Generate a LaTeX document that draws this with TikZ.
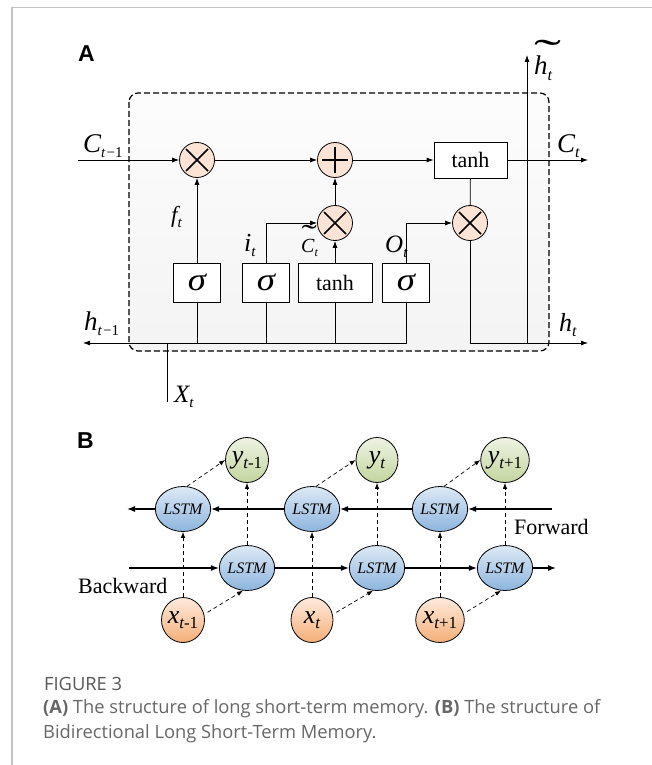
\documentclass[tikz,border=0pt]{standalone}
\usepackage{fontspec}
\setmainfont{Liberation Serif}
\newfontfamily\panelfont{Liberation Sans}
\newfontfamily\capfont{Open Sans}
\usepackage{graphicx}
\usetikzlibrary{shapes.geometric,arrows.meta}
\definecolor{opfill}{HTML}{FBE3D6}
\definecolor{framegray}{HTML}{C4C4C4}
\definecolor{capgray}{HTML}{676767}
\definecolor{figgray}{HTML}{585858}
\definecolor{ytop}{HTML}{EEF3E3}
\definecolor{ybot}{HTML}{C3D59E}
\definecolor{ltop}{HTML}{DDE9F5}
\definecolor{lbot}{HTML}{8DB5DE}
\definecolor{xtop}{HTML}{FEEBDD}
\definecolor{xbot}{HTML}{F5AE78}
\newcommand{\vlab}[4]{{\fontsize{#1pt}{#1pt}\selectfont\itshape #2\raisebox{-0.22em}{\fontsize{#3pt}{#3pt}\selectfont #4}}}
\newcommand{\tl}[3]{\rlap{\kern#1\raisebox{#2}{\scalebox{#3}[1.5]{\upshape ˜}}}}
\begin{document}
\begin{tikzpicture}[x=1pt,y=-1pt,
  conn/.style={line width=0.8pt},
  arr/.style={conn,-{Latex[length=7pt,width=5pt]}},
  mult/.style={circle,draw,line width=0.8pt,fill=opfill,minimum size=35pt,inner sep=0pt,
    path picture={\draw[line width=1.7pt] (path picture bounding box.center) ++(-11pt,-11pt) -- ++(22pt,22pt);
                  \draw[line width=1.7pt] (path picture bounding box.center) ++(-11pt,11pt) -- ++(22pt,-22pt);}},
  add/.style={circle,draw,line width=0.8pt,fill=opfill,minimum size=35pt,inner sep=0pt,
    path picture={\draw[line width=1.7pt] (path picture bounding box.center) ++(-13pt,0pt) -- ++(26pt,0pt);
                  \draw[line width=1.7pt] (path picture bounding box.center) ++(0pt,-13pt) -- ++(0pt,26pt);}},
  gate/.style={draw,line width=0.8pt,fill=white,minimum width=47pt,minimum height=39pt,inner sep=0pt,
    font=\fontsize{32pt}{32pt}\selectfont\itshape},
  tbox/.style={draw,line width=0.8pt,fill=white,minimum width=73pt,minimum height=36pt,inner sep=0pt,
    font=\fontsize{22pt}{22pt}\selectfont},
  lab/.style={anchor=base west,inner sep=0pt},
  bnode/.style={ellipse,draw,line width=0.8pt,minimum width=42pt,minimum height=45pt,inner sep=0pt},
  lstm/.style={bnode,top color=ltop,bottom color=lbot,font=\fontsize{16pt}{16pt}\selectfont\itshape},
  ynode/.style={bnode,top color=ytop,bottom color=ybot},
  xnode/.style={bnode,top color=xtop,bottom color=xbot},
  rowarr/.style={line width=1.3pt,-{Latex[length=8pt,width=6pt]}},
  darr/.style={line width=0.7pt,dash pattern=on 4pt off 3pt,-{Latex[length=6pt,width=4.5pt]}},
  side/.style={anchor=base west,inner sep=0pt,font=\fontsize{22pt}{22pt}\selectfont},
  panel/.style={anchor=base west,inner sep=0pt,font=\panelfont\bfseries\fontsize{23pt}{23pt}\selectfont},
  captext/.style={anchor=base west,inner sep=0pt,text=capgray,font=\capfont\fontsize{18.3pt}{18.3pt}\selectfont}
]
\useasboundingbox (0,0) rectangle (652,765);
\fill[white] (0,0) rectangle (652,765);
\draw[framegray,line width=1.3pt] (12,765) -- (12,7.5) -- (652,7.5);

% ---------- Panel A ----------
\node[panel] (pa) at (78,62) {A};
\draw[line width=1.2pt,dash pattern=on 6pt off 3pt,rounded corners=9pt,top color=gray!2,bottom color=gray!9]
  (129,93) rectangle (549,351);

\coordinate (cin) at (78,160);
\coordinate (cout) at (588,160);
\coordinate (hl) at (83,343);
\coordinate (hr) at (588,343);
\coordinate (xb) at (167,402);
\coordinate (ht) at (527,55);

\node[mult] (m1) at (197,160) {};
\node[add] (pl) at (335,160) {};
\node[tbox] (th1) at (470.5,160) {tanh};
\node[gate] (s1) at (197,282.5) {\scalebox{1.15}[1]{σ}};
\node[gate] (s2) at (266,282.5) {\scalebox{1.15}[1]{σ}};
\node[tbox,minimum height=39pt,minimum width=74pt] (th2) at (335,282.5) {tanh};
\node[gate] (s3) at (406,282.5) {\scalebox{1.15}[1]{σ}};
\node[mult] (m2) at (335,223) {};
\node[mult] (m3) at (470,223) {};

\draw[arr] (cin) -- (m1);
\draw[arr] (m1) -- (pl);
\draw[arr] (pl) -- (th1);
\draw[arr] (th1) -- (cout);
\draw[arr] (s1) -- (m1);
\draw[arr] (s2.north) |- (m2.west);
\draw[arr] (th2) -- (m2);
\draw[arr] (m2) -- (pl);
\draw[arr] (s3.north) |- (m3.west);
\draw[conn] (th1) -- (m3);
\draw[arr] (s3.south) |- (hl);
\draw[conn] (s1.south) -- (s1.south |- hl);
\draw[conn] (s2.south) -- (s2.south |- hl);
\draw[conn] (th2.south) -- (th2.south |- hl);
\draw[conn] (xb) -- (xb |- hl);
\draw[arr] (m3.south) |- (hr);
\draw[arr] (ht |- hr) -- (ht);

\node[lab] (lc1) at (83,152) {\vlab{27}{C}{15}{t\upshape\kern0.08em−1}};
\node[lab] (lc2) at (557,152) {\vlab{27}{C}{16}{t}};
\node[lab] (lf) at (171,222) {\vlab{23}{f}{15}{t}};
\node[lab] (li) at (244,251) {\vlab{26}{i}{15}{t}};
\node[lab] (lct) at (301,252) {{\fontsize{20pt}{20pt}\selectfont\itshape\tl{0.02em}{0.34em}{2.3}C}\raisebox{-4pt}{\fontsize{12pt}{12pt}\selectfont\itshape t}};
\node[lab] (lo) at (385,252) {\vlab{25}{O}{15}{t}};
\node[lab] (lh1) at (84,330) {\vlab{27}{h}{15}{t\upshape\kern0.08em−1}};
\node[lab] (lh2) at (559,331) {\vlab{26}{h}{16}{t}};
\node[lab] (lx) at (174,402) {\vlab{25}{X}{15}{t}};
\node[lab] (lht) at (534,75) {{\fontsize{27pt}{27pt}\selectfont\itshape\tl{0.02em}{0.26em}{3}h}\raisebox{-6pt}{\fontsize{16pt}{16pt}\selectfont\itshape t}};

% ---------- Panel B ----------
\node[panel] (pb) at (77,448) {B};

\coordinate (bl) at (127,509);
\coordinate (br) at (552,509);
\coordinate (fl) at (129,568);
\coordinate (fr) at (556,568);

\node[lstm] (b1) at (183,509) {LSTM};
\node[lstm] (b2) at (312,509) {LSTM};
\node[lstm] (b3) at (440,509) {LSTM};
\node[lstm] (f1) at (247,568) {LSTM};
\node[lstm] (f2) at (377,568) {LSTM};
\node[lstm] (f3) at (505,568) {LSTM};
\node[ynode] (y1) at (247,460) {\vlab{26}{y}{17}{t\upshape -1}};
\node[ynode] (y2) at (377,460) {\vlab{26}{y}{17}{t}};
\node[ynode] (y3) at (505,460) {\vlab{26}{y}{17}{t\upshape +1}};
\node[xnode] (x1) at (183,620) {\vlab{26}{x}{17}{t\upshape -1}};
\node[xnode] (x2) at (312,620) {\vlab{26}{x}{17}{t}};
\node[xnode] (x3) at (440,620) {\vlab{26}{x}{17}{t\upshape +1}};

\draw[rowarr] (br) -- (b3);
\draw[rowarr] (b3) -- (b2);
\draw[rowarr] (b2) -- (b1);
\draw[rowarr] (b1) -- (bl);
\draw[rowarr] (fl) -- (f1);
\draw[rowarr] (f1) -- (f2);
\draw[rowarr] (f2) -- (f3);
\draw[rowarr] (f3) -- (fr);

\foreach \i in {1,2,3}{
  \draw[darr] (x\i) -- (b\i);
  \draw[darr] (f\i) -- (y\i);
  \draw[darr,shorten <=4pt] (x\i.15) -- (f\i.-100);
  \draw[darr] (b\i.80) -- (y\i.west);
}

\node[side] (fw) at (514,534) {Forward};
\node[side] (bw) at (78,593) {Backward};

% ---------- Caption ----------
\node[captext,text=figgray] (c0) at (44,690) {FIGURE 3};
\node[captext] (c1) at (43,713) {\textbf{(A)} The structure of long short-term memory. \textbf{(B)} The structure of};
\node[captext] (c2) at (43,738) {Bidirectional Long Short-Term Memory.};
\end{tikzpicture}
\end{document}
